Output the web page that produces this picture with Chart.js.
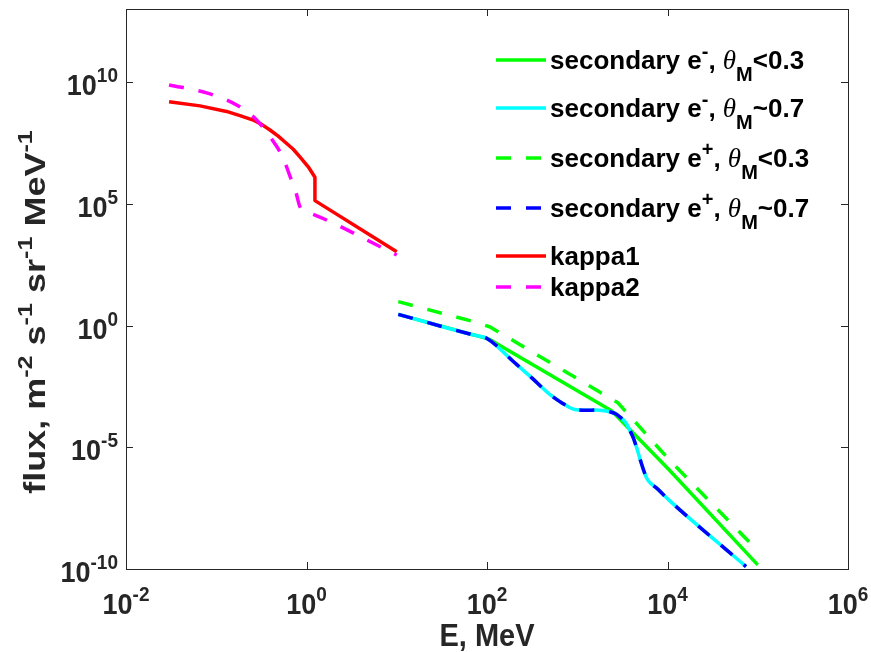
<!DOCTYPE html>
<html>
<head>
<meta charset="utf-8">
<script src="https://cdn.jsdelivr.net/npm/chart.js@4.4.1/dist/chart.umd.min.js"></script>
<style>
  html, body { margin: 0; padding: 0; background: #ffffff; }
  canvas { display: block; }
</style>
</head>
<body>
<canvas id="c" width="871" height="652"></canvas>
<script>
// Energy (MeV) and flux (m^-2 s^-1 sr^-1 MeV^-1) for each spectrum
const E_eMinus03 = [10.4, 64.6, 79.4, 98.9, 107, 2399, 10470, 100000];
const F_eMinus03 = [2.88, 0.447, 0.372, 0.302, 0.269, 3.16e-4, 1.17e-6, 1.48e-10];

const E_eMinus07 = [10.4, 64.6, 79.4, 98.9, 200, 316, 501, 692, 832, 977, 1259, 1622, 1995, 2291, 2692, 3090, 3467, 3802, 4169, 4519, 5129, 5888, 6607, 7586, 10470, 74130];
const F_eMinus07 = [2.88, 0.447, 0.372, 0.302, 0.0309, 6.9e-3, 1.45e-3, 6.3e-4, 4.2e-4, 3.47e-4, 3.31e-4, 3.39e-4, 3.16e-4, 2.88e-4, 2.34e-4, 1.55e-4, 1.0e-4, 5.13e-5, 2.51e-5, 1.05e-5, 2.19e-6, 5.37e-7, 3.16e-7, 2.09e-7, 6.6e-8, 1.26e-10];

const E_ePlus03 = [10.4, 70.8, 107, 2818, 10470, 100000];
const F_ePlus03 = [9.55, 1.45, 0.891, 6.76e-4, 3.02e-6, 5.62e-10];

const E_ePlus07 = E_eMinus07;
const F_ePlus07 = F_eMinus07;

const E_kappa1 = [0.03, 0.066, 0.13, 0.183, 0.257, 0.318, 0.394, 0.486, 0.603, 0.713, 0.845, 1.045, 1.24, 1.24, 10];
const F_kappa1 = [1.55e9, 1.05e9, 6.2e8, 4.2e8, 2.75e8, 1.82e8, 1.07e8, 6.0e7, 3.0e7, 1.74e7, 8.5e6, 3.3e6, 1.23e6, 1.35e5, 1.07e3];

const E_kappa2 = [0.03, 0.078, 0.168, 0.28, 0.468, 0.552, 0.66, 0.743, 0.845, 0.95, 1.1, 10];
const F_kappa2 = [7.6e9, 3.6e9, 1.15e9, 2.75e8, 2.24e7, 7.4e6, 1.29e6, 4.4e5, 7.6e4, 4.8e4, 4.1e4, 7.9e2];

// Decade ticks
const xTickValues = [1e-2, 1e0, 1e2, 1e4, 1e6];
const xTickExps = ['-2', '0', '2', '4', '6'];
const yTickValues = [1e-10, 1e-5, 1e0, 1e5, 1e10];
const yTickExps = ['-10', '-5', '0', '5', '10'];

// Legend entries: [main text, superscript, suffix]
const seriesNames = [
  ['secondary e', '-', '<0.3'],
  ['secondary e', '-', '~0.7'],
  ['secondary e', '+', '<0.3'],
  ['secondary e', '+', '~0.7'],
  ['kappa1'],
  ['kappa2']
];

const pts = (xs, ys) => xs.map((x, i) => ({ x: x, y: ys[i] }));

const series = [
  { data: pts(E_eMinus03, F_eMinus03), color: '#00ff00', dash: [], smooth: false },
  { data: pts(E_eMinus07, F_eMinus07), color: '#00ffff', dash: [], smooth: true },
  { data: pts(E_ePlus03, F_ePlus03), color: '#00ff00', dash: [15, 15], smooth: false },
  { data: pts(E_ePlus07, F_ePlus07), color: '#0000ff', dash: [15, 15], smooth: true },
  { data: pts(E_kappa1, F_kappa1), color: '#ff0000', dash: [], smooth: false },
  { data: pts(E_kappa2, F_kappa2), color: '#ff00ff', dash: [15, 15], smooth: true }
];

const datasets = series.map((s, i) => ({
  data: s.data,
  borderColor: s.color,
  borderWidth: 3.5,
  borderDash: s.dash,
  borderJoinStyle: 'round',
  pointRadius: 0,
  fill: false,
  tension: 0,
  cubicInterpolationMode: s.smooth ? 'monotone' : 'default',
  order: series.length - 1 - i
}));

const SANS = '"Liberation Sans", Arial, Helvetica, sans-serif';
const SERIF = '"Liberation Serif", "Times New Roman", serif';

// Draws a run of text pieces {t, font, dy}; sy stretches glyphs vertically about the baseline
function drawRuns(ctx, runs, x, y, align, sy) {
  sy = sy || 1;
  let total = 0;
  runs.forEach(r => { ctx.font = r.font; r.w = ctx.measureText(r.t).width; total += r.w; });
  let cx = x;
  if (align === 'center') cx = x - total / 2;
  else if (align === 'right') cx = x - total;
  ctx.save();
  ctx.translate(0, y);
  ctx.scale(1, sy);
  ctx.textAlign = 'left';
  ctx.textBaseline = 'alphabetic';
  runs.forEach(r => {
    ctx.font = r.font;
    ctx.fillText(r.t, cx, (r.dy || 0));
    cx += r.w;
  });
  ctx.restore();
  return total;
}

const axesPlugin = {
  id: 'axesFrame',
  afterDatasetsDraw(chart) {
    const ctx = chart.ctx;
    const a = chart.chartArea;
    const xs = chart.scales.x, ys = chart.scales.y;
    ctx.save();
    ctx.strokeStyle = '#262626';
    ctx.lineWidth = 1;
    ctx.strokeRect(Math.round(a.left) + 0.5, Math.round(a.top) + 0.5,
                   Math.round(a.right - a.left), Math.round(a.bottom - a.top));
    const tl = 7;
    ctx.beginPath();
    xTickValues.forEach(v => {
      const px = Math.round(xs.getPixelForValue(v)) + 0.5;
      ctx.moveTo(px, a.bottom); ctx.lineTo(px, a.bottom - tl);
      ctx.moveTo(px, a.top); ctx.lineTo(px, a.top + tl);
    });
    yTickValues.forEach(v => {
      const py = Math.round(ys.getPixelForValue(v)) + 0.5;
      ctx.moveTo(a.left, py); ctx.lineTo(a.left + tl, py);
      ctx.moveTo(a.right, py); ctx.lineTo(a.right - tl, py);
    });
    ctx.stroke();

    ctx.fillStyle = '#262626';
    const baseFont = 'bold 27px ' + SANS;
    const expFont = 'bold 19px ' + SANS;
    xTickValues.forEach((v, i) => {
      const px = xs.getPixelForValue(v);
      drawRuns(ctx, [{ t: '10', font: baseFont }, { t: xTickExps[i], font: expFont, dy: -12 }],
               px, a.bottom + 45, 'center', 1.08);
    });
    yTickValues.forEach((v, i) => {
      const py = ys.getPixelForValue(v);
      drawRuns(ctx, [{ t: '10', font: baseFont }, { t: yTickExps[i], font: expFont, dy: -12 }],
               a.left - 8, py + 13, 'right', 1.08);
    });

    // Axis titles
    const tFont = 'bold 29px ' + SANS;
    drawRuns(ctx, [{ t: 'E, MeV', font: tFont }], (a.left + a.right) / 2, 646, 'center', 1.08);
    const yFont = 'bold 30px ' + SANS;
    const ySup = 'bold 21px ' + SANS;
    ctx.save();
    ctx.translate(45, 312);
    ctx.rotate(-Math.PI / 2);
    ctx.scale(1.2, 1);
    drawRuns(ctx, [
      { t: 'flux, m', font: yFont }, { t: '-2', font: ySup, dy: -13 },
      { t: ' s', font: yFont }, { t: '-1', font: ySup, dy: -13 },
      { t: ' sr', font: yFont }, { t: '-1', font: ySup, dy: -13 },
      { t: ' MeV', font: yFont }, { t: '-1', font: ySup, dy: -13 }
    ], 0, 0, 'center');
    ctx.restore();

    // Legend
    const rowY = [60, 108, 158, 208, 256, 287];
    const lx0 = 496, lx1 = 546, tx = 550;
    const lf = 'bold 26px ' + SANS;
    const lsf = 'bold 20px ' + SANS;
    const thetaFont = 'italic 27px ' + SERIF;
    seriesNames.forEach((name, i) => {
      const s = series[i];
      const y = rowY[i];
      ctx.save();
      ctx.strokeStyle = s.color;
      ctx.lineWidth = 3.5;
      ctx.setLineDash(s.dash);
      ctx.beginPath();
      ctx.moveTo(lx0, y); ctx.lineTo(lx1, y);
      ctx.stroke();
      ctx.restore();
      ctx.fillStyle = '#000000';
      if (name.length === 1) {
        drawRuns(ctx, [{ t: name[0], font: lf }], tx, y + 9, 'left');
      } else {
        drawRuns(ctx, [
          { t: name[0], font: lf },
          { t: name[1], font: lsf, dy: -11 },
          { t: ', ', font: lf },
          { t: '\u03B8', font: thetaFont },
          { t: 'M', font: lsf, dy: 12 },
          { t: name[2], font: lf }
        ], tx, y + 9, 'left');
      }
    });
    ctx.restore();
  }
};

new Chart(document.getElementById('c').getContext('2d'), {
  type: 'line',
  data: { datasets: datasets },
  options: {
    responsive: false,
    animation: false,
    devicePixelRatio: 1,
    layout: { padding: { left: 126, top: 9, right: 23, bottom: 83 } },
    plugins: { legend: { display: false }, tooltip: { enabled: false } },
    scales: {
      x: { type: 'logarithmic', min: 1e-2, max: 1e6, display: false },
      y: { type: 'logarithmic', min: 1e-10, max: 1e13, display: false }
    }
  },
  plugins: [axesPlugin]
});
</script>
</body>
</html>
